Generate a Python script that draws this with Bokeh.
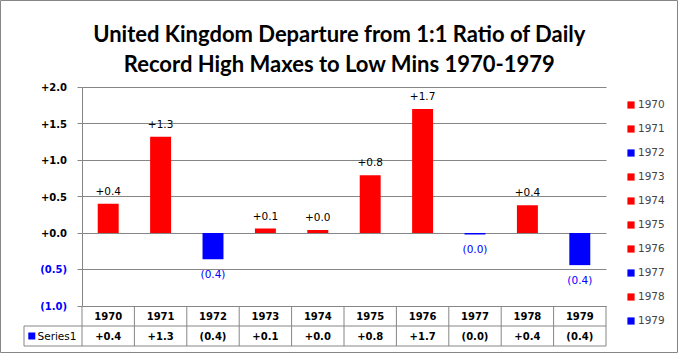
from bokeh.plotting import figure
from bokeh.models import (ColumnDataSource, Range1d, LinearAxis, FixedTicker, Grid,
                          CustomJSTickFormatter, Label)
from bokeh.core.properties import value
from bokeh.embed import file_html
from bokeh.resources import INLINE

# ---------------- data ----------------
years = ["1970", "1971", "1972", "1973", "1974", "1975", "1976", "1977", "1978", "1979"]
departure = [0.40, 1.32, -0.36, 0.06, 0.04, 0.79, 1.70, -0.02, 0.38, -0.44]
pos_ticks = [0.0, 0.5, 1.0, 1.5, 2.0]
neg_ticks = [-1.0, -0.5]
series_name = "Series1"
title_lines = ["United Kingdom Departure from 1:1 Ratio of Daily",
               "Record High Maxes to Low Mins 1970-1979"]

# ---------------- styles / layout ----------------
RED, BLUE, GRAY = "#FF0000", "#0000FF", "#868686"
FONT = "DejaVu Sans"
W, H = 678, 353
X0_PX, CAT_PX = 81.5, 52.4     # pixel of category axis start, pixels per category
Y0_PX, UNIT_PX = 232.5, 73.0   # pixel of value 0, pixels per unit


def dx(px):
    return (px - X0_PX) / CAT_PX


def dy(py):
    return (Y0_PX - py) / UNIT_PX


def fmt(v):
    s = f"{abs(v):.1f}"
    return f"({s})" if v < 0 else f"+{s}"


n = len(years)
src = ColumnDataSource(dict(
    x=[i + 0.5 for i in range(n)],
    top=departure,
    year=years,
    color=[RED if v >= 0 else BLUE for v in departure],
    label=[fmt(v) for v in departure],
    label_color=["black" if v >= 0 else BLUE for v in departure],
    label_off=[-13 if v >= 0 else 15 for v in departure],
))

p = figure(width=W, height=H, output_backend="svg", toolbar_location=None,
           x_range=Range1d(dx(0), dx(W)), y_range=Range1d(dy(H), dy(0)),
           x_axis_location=None, y_axis_location=None, min_border=0,
           background_fill_color="white", border_fill_color="white",
           outline_line_color=GRAY)
for g in p.grid:
    g.visible = False

# gridlines
all_ticks = neg_ticks + pos_ticks
p.add_layout(Grid(dimension=1, ticker=FixedTicker(ticks=all_ticks), cross_bounds=(0, n),
                  grid_line_color=GRAY, grid_line_width=1), "center")

# value axes (black positives, blue negatives)
fmtr = CustomJSTickFormatter(code="return tick < 0 ? '(' + (-tick).toFixed(1) + ')' : '+' + tick.toFixed(1);")
for ticks, col, b in [(pos_ticks, "black", (0.0, max(pos_ticks))), (neg_ticks, BLUE, (min(neg_ticks), 0.0))]:
    ax = LinearAxis(fixed_location=0, ticker=FixedTicker(ticks=ticks), formatter=fmtr, bounds=b,
                    axis_line_color=GRAY, major_tick_line_color=GRAY, major_tick_out=5, major_tick_in=0,
                    minor_tick_line_color=None, major_label_text_color=col,
                    major_label_text_font=FONT, major_label_text_font_size="10px",
                    major_label_text_font_style="bold", major_label_standoff=10)
    p.add_layout(ax, "left")

# bars
p.vbar(x="x", top="top", bottom=0, width=0.4, fill_color="color", line_color=None,
       source=src, legend_field="year")

# data labels
p.text(x="x", y="top", text="label", source=src, text_color="label_color", y_offset="label_off",
       text_align="center", text_baseline="middle", text_font=value(FONT), text_font_size="10.5px")

# legend
leg = p.legend[0]
leg.location = (626, 27)
leg.border_line_color = None
leg.background_fill_alpha = 0
leg.padding = 0
leg.margin = 0
leg.spacing = 12
leg.label_height = 12
leg.glyph_height = 9
leg.glyph_width = 9
leg.label_standoff = 3
leg.label_text_font = FONT
leg.label_text_font_size = "10.5px"

# data table below chart
t_top, t_mid, t_bot = -1.0, dy(325.5), dy(345.5)
cell_left = dx(23.5)
p.segment(x0=list(range(n + 1)), y0=[t_top] * (n + 1), x1=list(range(n + 1)), y1=[t_bot] * (n + 1),
          line_color=GRAY, line_width=1)
p.segment(x0=[cell_left, cell_left, cell_left], y0=[t_mid, t_bot, t_mid],
          x1=[n, n, cell_left], y1=[t_mid, t_bot, t_bot], line_color=GRAY, line_width=1)
p.text(x="x", y=dy(315.5), text="year", source=src, text_align="center", text_baseline="middle",
       text_font=value(FONT), text_font_size="10px", text_font_style="bold", text_color="black")
p.text(x="x", y=dy(335.5), text="label", source=src, text_align="center", text_baseline="middle",
       text_font=value(FONT), text_font_size="10px", text_font_style="bold", text_color="black")
p.scatter(x=[dx(31.3)], y=[dy(335.5)], marker="square", size=7, fill_color=BLUE, line_color=None)
p.add_layout(Label(x=dx(37), y=dy(335.5), text=series_name, text_align="left", text_baseline="middle",
                   text_font=FONT, text_font_size="10.5px", text_color="black"))

# title
for txt, base in zip(title_lines, [33.3, 63.3]):
    p.add_layout(Label(x=dx(339), y=dy(base), text=txt, text_align="center", text_baseline="alphabetic",
                       text_font="Lato", text_font_style="bold", text_font_size="22px",
                       text_color="black"))

open("out.html", "w").write(file_html(p, INLINE))
